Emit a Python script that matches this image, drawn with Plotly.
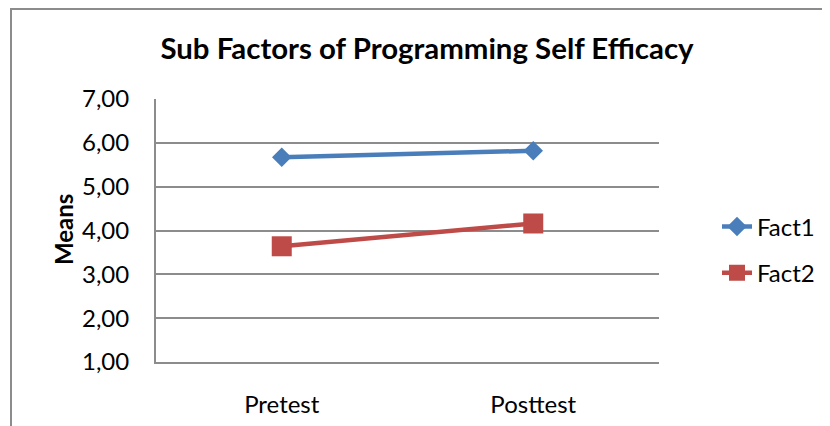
import plotly.graph_objects as go

# Data
categories = ['Pretest', 'Posttest']
fact1 = [5.67, 5.82]
fact2 = [3.64, 4.16]

font_family = 'Lato, "Open Sans", sans-serif'

# the page has an 8px body margin, so screen positions are shifted by 8
OFF = 8
PL, PT, PR, PB = 156, 99, 659, 362  # plot area on screen
PW, PH = PR - PL, PB - PT

fig = go.Figure()
fig.add_trace(go.Scatter(
    x=categories, y=fact1, name='Fact1', mode='lines+markers',
    line=dict(color='#4A7EBB', width=4.5),
    marker=dict(symbol='diamond', size=15, color='#4A7EBB'),
    legendgroup='a',
))
fig.add_trace(go.Scatter(
    x=categories, y=fact2, name='Fact2', mode='lines+markers',
    line=dict(color='#BE4B48', width=4.5),
    marker=dict(symbol='square', size=20, color='#BE4B48'),
    legendgroup='b',
))

fig.update_layout(
    width=830, height=426,
    margin=dict(l=PL - OFF, r=830 - (PR - OFF), t=PT - OFF, b=426 - (PB - OFF)),
    paper_bgcolor='white', plot_bgcolor='white',
    separators=', ',
    font=dict(family=font_family, size=24, color='black'),
    title=dict(
        text='<b>Sub Factors of Programming Self Efficacy</b>',
        x=(427 - OFF) / 830, xanchor='center',
        y=1 - (49 - OFF) / 426, yanchor='middle',
        font=dict(size=29.4, color='black'),
    ),
    legend=dict(
        x=(717 - PL) / PW, xanchor='left',
        y=(PB - 250) / PH, yanchor='middle',
        traceorder='grouped', tracegroupgap=12,
        font=dict(size=24),
        bgcolor='rgba(0,0,0,0)',
    ),
    showlegend=True,
)

fig.update_xaxes(
    type='category', range=[-0.5, 1.5],
    showgrid=False, showline=True, linecolor='#8c8c8c', linewidth=2,
    ticks='outside', ticklen=20, tickcolor='rgba(0,0,0,0)',
    zeroline=False,
)
fig.update_yaxes(
    range=[1, 7], dtick=1, tickformat='.2f',
    showgrid=True, gridcolor='#8c8c8c', gridwidth=2,
    showline=True, linecolor='#8c8c8c', linewidth=2,
    ticks='outside', ticklen=20, tickcolor='rgba(0,0,0,0)',
    zeroline=False,
)

# "Means" axis title
fig.add_annotation(
    text='<b>Means</b>', textangle=-90, showarrow=False,
    xref='paper', yref='paper', x=(63 - PL) / PW, y=(PB - 230) / PH,
    xanchor='center', yanchor='middle', font=dict(size=24),
)

# outer chart border (runs past the right and bottom of the image);
# top edge kept just inside the figure so it is not clipped
fig.add_shape(
    type='rect', xref='paper', yref='paper',
    x0=(11 - PL) / PW, x1=1.5, y0=-0.6, y1=(PB - 9) / PH,
    line=dict(color='#8c8c8c', width=2), layer='below',
)

fig.write_html('out.html')
